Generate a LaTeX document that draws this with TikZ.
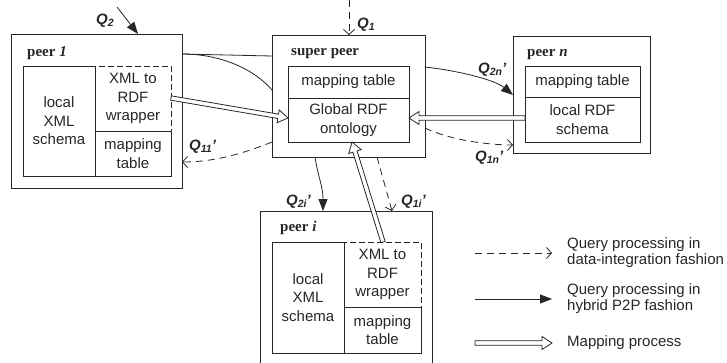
\documentclass[tikz,border=0pt]{standalone}
\usepackage{fontspec}
\setmainfont{Liberation Sans}
\newfontfamily\serifb{Liberation Serif}
\usetikzlibrary{arrows.meta,calc}
\colorlet{ink}{black!85}
\newcommand{\qlab}[2]{Q\raisebox{-2.8pt}{\fontsize{10.5}{10.5}\selectfont #1}#2}
\newcommand{\maparrow}[2]{%
  \draw[solidline, fill=white, line join=miter]
    ($(#1)!2.2pt!90:(#2)$) -- ($(#2)!10pt!(#1)!2.2pt!-90:(#1)$)
    -- ($(#2)!10pt!(#1)!6.5pt!-90:(#1)$) -- (#2)
    -- ($(#2)!10pt!(#1)!6.5pt!90:(#1)$) -- ($(#2)!10pt!(#1)!2.2pt!90:(#1)$)
    -- ($(#1)!2.2pt!-90:(#2)$) -- cycle;
}
\tikzset{
  outerbox/.style={draw=ink, line width=0.9pt, anchor=north west, inner sep=0pt, outer sep=0pt},
  cell/.style={draw=ink, line width=0.8pt, anchor=north west, inner sep=0pt, outer sep=0pt, align=center, text=ink, font=\fontsize{15}{18.5}\selectfont},
  wrapcell/.style={cell, dash pattern=on 6pt off 3pt},
  peerlbl/.style={anchor=base west, inner sep=0pt, text=ink, font=\serifb\bfseries\fontsize{15}{18}\selectfont},
  qlbl/.style={anchor=base west, inner sep=0pt, text=ink, font=\bfseries\itshape\fontsize{15}{16}\selectfont},
  solidline/.style={draw=ink, line width=0.8pt},
  dataq/.style={draw=ink, line width=0.8pt, dash pattern=on 7pt off 5pt, -{Straight Barb[length=5pt,width=11pt]}},
  hybq/.style={draw=ink, line width=0.8pt, -{Triangle[length=12pt,width=9pt]}},
  legtext/.style={anchor=west, inner sep=0pt, align=left, text=ink, font=\fontsize{15}{16}\selectfont},
}
\begin{document}
\begin{tikzpicture}[x=1pt,y=-1pt]
\useasboundingbox (0,0) rectangle (727,362);

% peer 1
\node[outerbox, minimum width=171pt, minimum height=154pt] (p1) at (11,34) {};
\node[peerlbl] (p1l) at (27,56) {peer \textit{1}};
\node[wrapcell, minimum width=76pt, minimum height=65pt] (p1w) at (95,66) {XML to\\RDF\\wrapper};
\node[cell, minimum width=72pt, minimum height=110pt] (p1s) at (23,66) {local\\XML\\schema};
\node[cell, minimum width=76pt, minimum height=45pt] (p1m) at (95,131) {mapping\\table};

% super peer
\node[outerbox, minimum width=153pt, minimum height=122pt] (sp) at (272,35) {};
\node[peerlbl] (spl) at (291,55) {super peer};
\node[cell, minimum width=121pt, minimum height=32pt] (spm) at (288,66) {mapping table};
\node[cell, minimum width=121pt, minimum height=44pt] (spg) at (288,98) {Global RDF\\ontology};

% peer n
\node[outerbox, minimum width=137pt, minimum height=117pt] (pn) at (513,36) {};
\node[peerlbl] (pnl) at (527,56) {peer \textit{n}};
\node[cell, minimum width=115pt, minimum height=31pt] (pnm) at (525,66) {mapping table};
\node[cell, minimum width=115pt, minimum height=45pt] (pns) at (525,97) {local RDF\\schema};

% peer i
\node[outerbox, minimum width=172pt, minimum height=154pt] (pi) at (260,211) {};
\node[peerlbl] (pil) at (280,231) {peer \textit{i}};
\node[wrapcell, minimum width=77pt, minimum height=65pt] (piw) at (344,242) {XML to\\RDF\\wrapper};
\node[cell, minimum width=72pt, minimum height=111pt] (pis) at (272,242) {local\\XML\\schema};
\node[cell, minimum width=77pt, minimum height=46pt] (pim) at (344,307) {mapping\\table};

% query connectors
\coordinate (q2s) at (117,7);
\draw[hybq] (q2s) -- ($(p1.north east)+(-44,0)$);
\coordinate (q1s) at (349,0);
\draw[dataq] (q1s) -- ($(sp.north west)+(77,0)$);
\draw[solidline] ($(p1.north east)+(0,20)$) -- ($(sp.north west)+(0,21)$);
\draw[solidline] ($(p1.north east)+(0,20)$) .. controls +(40,0) and +(-17,-20) .. ($(sp.north west)+(0,55)$);
\draw[hybq] ($(sp.south west)+(43,0)$) .. controls +(3,20) and +(0,-25) .. ($(pi.north west)+(63,0)$);
\draw[dataq] ($(sp.south west)+(105,0)$) -- ($(pi.north west)+(132,0)$);
\draw[hybq] ($(sp.north east)+(0,32)$) .. controls +(35,4) and +(-18,-15) .. ($(pn.north west)+(0,59)$);
\draw[dataq] ($(sp.north east)+(0,93)$) .. controls +(25,12) and +(-25,0) .. ($(pn.north west)+(0,109)$);
\draw[dataq] ($(sp.south west)+(0,-15)$) .. controls +(-25,10) and +(35,0) .. ($(p1.south east)+(0,-26)$);

% query labels
\node[qlbl] (lq2) at (96,24) {\qlab{2}{}};
\node[qlbl] (lq1) at (357,28) {\qlab{1}{}};
\node[qlbl] (lq2n) at (478,73) {\qlab{2n}{'}};
\node[qlbl] (lq1n) at (475,161) {\qlab{1n}{'}};
\node[qlbl] (lq11) at (189,150) {\qlab{11}{'}};
\node[qlbl] (lq2i) at (286,205) {\qlab{2i}{'}};
\node[qlbl] (lq1i) at (401,205) {\qlab{1i}{'}};

% mapping arrows
\coordinate (m1a) at ($(p1w.east)+(0,-0.5)$);
\coordinate (m1b) at ($(spg.west)+(0,-2)$);
\coordinate (mna) at ($(pns.west)+(0,-1.5)$);
\coordinate (mnb) at ($(spg.east)+(0,-2)$);
\coordinate (mia) at ($(piw.north west)+(39,0)$);
\coordinate (mib) at ($(spg.south west)+(64,0)$);
\maparrow{m1a}{m1b}
\maparrow{mna}{mnb}
\maparrow{mia}{mib}

% legend
\coordinate (l1a) at (475,253);
\coordinate (l1b) at (552,253);
\coordinate (l2a) at (475,299);
\coordinate (l2b) at (552,299);
\coordinate (l3a) at (475,343);
\coordinate (l3b) at (552,343);
\draw[dataq] (l1a) -- (l1b);
\draw[hybq] (l2a) -- (l2b);
\maparrow{l3a}{l3b}
\node[legtext] (t1) at (567,253) {Query processing in\\data-integration fashion};
\node[legtext] (t2) at (567,299) {Query processing in\\hybrid P2P fashion};
\node[legtext] (t3) at (567,343) {Mapping process};
\end{tikzpicture}
\end{document}
